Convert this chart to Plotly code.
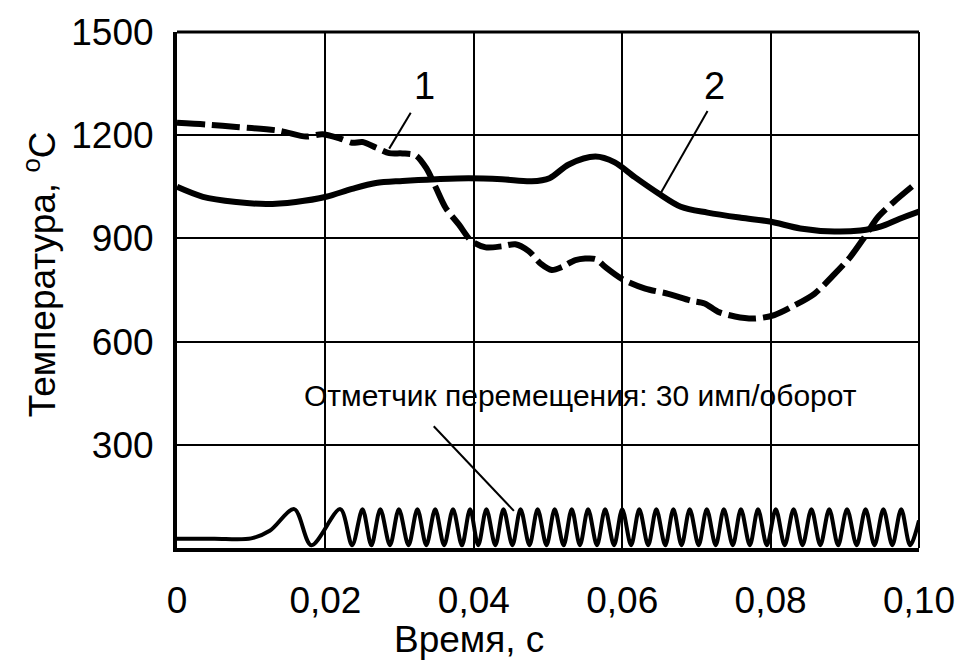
import plotly.graph_objects as go

# --- temperature curves (time in s, temperature in °C) ---
t_curve1 = [0, 0.004, 0.008, 0.0138, 0.0174, 0.0196, 0.0219, 0.0236, 0.025, 0.0268,
            0.0286, 0.0304, 0.0322, 0.0336, 0.0349, 0.0362, 0.038, 0.0397, 0.0416, 0.0438,
            0.0456, 0.0474, 0.0491, 0.0505, 0.052, 0.0537, 0.0564, 0.0577, 0.0599, 0.0631,
            0.0662, 0.0693, 0.0711, 0.0729, 0.0752, 0.0778, 0.0805, 0.0832, 0.0859, 0.0886,
            0.0907, 0.0926, 0.0944, 0.0966, 0.0993]
temp_curve1 = [1236, 1231, 1224, 1213, 1196, 1203, 1191, 1178, 1180, 1164,
               1148, 1147, 1141, 1104, 1047, 989, 940, 892, 874, 877,
               883, 863, 825, 808, 818, 837, 840, 817, 783, 754,
               739, 719, 711, 687, 673, 667, 677, 705, 739, 796,
               845, 902, 960, 1006, 1055]

t_curve2 = [0, 0.0035, 0.008, 0.012, 0.016, 0.0201, 0.0236, 0.0268, 0.0304, 0.0349,
            0.0393, 0.0438, 0.0478, 0.0502, 0.0528, 0.0564, 0.059, 0.0617, 0.0648,
            0.0679, 0.0715, 0.076, 0.0799, 0.084, 0.0886, 0.0921, 0.0948, 0.0974, 0.1]
temp_curve2 = [1050, 1021, 1006, 1000, 1006, 1021, 1044, 1061, 1067, 1072,
               1075, 1072, 1066, 1075, 1115, 1138, 1121, 1078, 1032,
               992, 975, 960, 949, 929, 920, 923, 934, 957, 978]

# --- displacement marker pulses (30 pulses per revolution) ---
pulse_start_t = [0, 0.0050, 0.0100, 0.0125]
pulse_start_v = [27, 27, 28, 50]
pulse_peak_t = [0.0158, 0.0220, 0.0250, 0.0274, 0.0299, 0.0324, 0.0348, 0.0372, 0.0395,
                0.0417, 0.0440, 0.0463, 0.0486, 0.0509, 0.0532, 0.0554, 0.0577, 0.0600,
                0.0623, 0.0646, 0.0669, 0.0691, 0.0714, 0.0737, 0.0760, 0.0783, 0.0807,
                0.0831, 0.0855, 0.0879, 0.0903, 0.0928, 0.0952, 0.0976]
pulse_trough_t = [0.0181, 0.0236, 0.0262, 0.0287, 0.0312, 0.0336, 0.0360, 0.0384, 0.0406,
                  0.0429, 0.0452, 0.0475, 0.0498, 0.0521, 0.0543, 0.0566, 0.0589, 0.0612,
                  0.0635, 0.0658, 0.0680, 0.0703, 0.0726, 0.0749, 0.0772, 0.0795, 0.0819,
                  0.0843, 0.0867, 0.0891, 0.0916, 0.0940, 0.0964, 0.0988]
pulse_peak_v = 113
pulse_trough_v = 8
pulse_end_t = [0.1]
pulse_end_v = [80]

x_ticks = [0, 0.02, 0.04, 0.06, 0.08, 0.10]
x_tick_labels = ["0", "0,02", "0,04", "0,06", "0,08", "0,10"]
y_ticks = [300, 600, 900, 1200, 1500]
y_tick_labels = ["300", "600", "900", "1200", "1500"]

FONT = "Liberation Sans, Arial, sans-serif"

# assemble the pulse trace: peaks and troughs alternate
pulse_t = list(pulse_start_t)
pulse_v = list(pulse_start_v)
for pk, tr in zip(pulse_peak_t, pulse_trough_t):
    pulse_t += [pk, tr]
    pulse_v += [pulse_peak_v, pulse_trough_v]
pulse_t += pulse_end_t
pulse_v += pulse_end_v

fig = go.Figure()
fig.add_trace(go.Scatter(x=t_curve2, y=temp_curve2, mode="lines",
                         line=dict(color="black", width=6, shape="spline", smoothing=0.9)))
fig.add_trace(go.Scatter(x=t_curve1, y=temp_curve1, mode="lines",
                         line=dict(color="black", width=6, dash="28px,7px",
                                   shape="spline", smoothing=0.8)))
fig.add_trace(go.Scatter(x=pulse_t, y=pulse_v, mode="lines",
                         line=dict(color="black", width=4, shape="spline", smoothing=0.9)))

# leader lines from the labels to the curves
leaders = [
    ((0.0315, 1265), (0.0286, 1161)),
    ((0.0715, 1270), (0.0652, 1032)),
    ((0.0346, 354), (0.0454, 108)),
]
for (xa, ya), (xb, yb) in leaders:
    fig.add_shape(type="line", xref="x", yref="y", x0=xa, y0=ya, x1=xb, y1=yb,
                  line=dict(color="black", width=2))

# top and right frame
fig.add_shape(type="line", xref="paper", yref="paper", x0=0, y0=1, x1=1, y1=1,
              line=dict(color="black", width=3))
fig.add_shape(type="line", xref="paper", yref="paper", x0=1, y0=0, x1=1, y1=1,
              line=dict(color="black", width=2))

fig.add_annotation(x=0.0333, y=1342, xref="x", yref="y", text="1", showarrow=False,
                   font=dict(size=38, color="black", family=FONT))
fig.add_annotation(x=0.0725, y=1342, xref="x", yref="y", text="2", showarrow=False,
                   font=dict(size=38, color="black", family=FONT))
fig.add_annotation(x=0.0544, y=444, xref="x", yref="y",
                   text="Отметчик перемещения: 30 имп/оборот", showarrow=False,
                   font=dict(size=30, color="black", family=FONT))

# axis titles
fig.add_annotation(x=(40 - 177) / 745, y=(548 - 271) / 523, xref="paper", yref="paper",
                   xanchor="center", yanchor="middle",
                   text="Температура, <sup>o</sup>C", textangle=-90, showarrow=False,
                   font=dict(size=37, color="black", family=FONT))
fig.add_annotation(x=(470 - 177) / 745, y=(548 - 641) / 523, xref="paper", yref="paper",
                   xanchor="center", yanchor="middle",
                   text="Время, с", showarrow=False,
                   font=dict(size=37, color="black", family=FONT))

fig.update_xaxes(range=[0, 0.1], tickvals=x_ticks, ticktext=x_tick_labels,
                 showgrid=True, gridcolor="black", gridwidth=2, zeroline=False,
                 showline=True, linecolor="black", linewidth=4, ticks="",
                 ticklabelstandoff=17,
                 tickfont=dict(size=37, color="black", family=FONT))
fig.update_yaxes(range=[0, 1500], tickvals=y_ticks, ticktext=y_tick_labels,
                 showgrid=True, gridcolor="black", gridwidth=2, zeroline=False,
                 showline=True, linecolor="black", linewidth=4, ticks="",
                 ticklabelstandoff=12,
                 tickfont=dict(size=37, color="black", family=FONT))

fig.update_layout(width=967, height=663, margin=dict(l=177, r=45, t=25, b=115),
                  plot_bgcolor="white", paper_bgcolor="white", showlegend=False,
                  font=dict(family=FONT, color="black"))

fig.write_html("out.html")
